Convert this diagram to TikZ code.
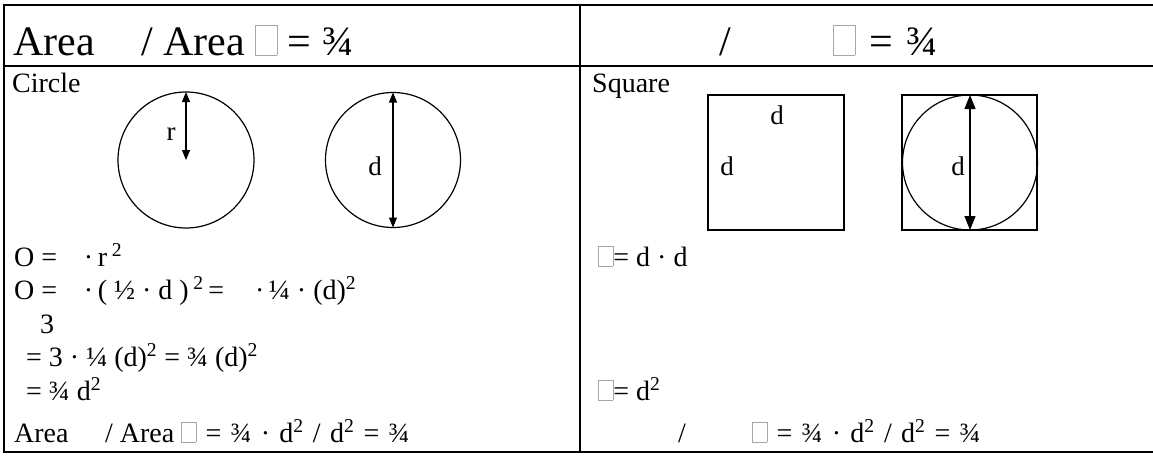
\documentclass[tikz,border=0pt]{standalone}
\usepackage{fontspec}
\setmainfont{Liberation Serif}
\usetikzlibrary{arrows.meta}
\newcommand\gbox{{\color{gray!70}\setlength\fboxrule{0.6pt}\setlength\fboxsep{0pt}\fbox{\rule{0pt}{0.7em}\hspace{0.5em}}}}
\newcommand\sq{\textsuperscript{2}}
\newcommand\gs{\hspace{0.33em}}
\begin{document}
\begin{tikzpicture}[x=1pt,y=-1pt,
  frame/.style={line width=2.2pt},
  figline/.style={line width=1.2pt},
  txt/.style={inner sep=0pt,anchor=base west,font=\fontsize{28}{32}\selectfont},
  head/.style={inner sep=0pt,anchor=base west,font=\fontsize{42}{46}\selectfont},
  lbl/.style={inner sep=0pt,font=\fontsize{27}{30}\selectfont},
  dimarr/.style={line width=1.2pt,{Triangle[length=10pt,width=8pt]}-{Triangle[length=10pt,width=8pt]}},
  bigarr/.style={line width=1.2pt,{Triangle[length=14pt,width=11pt]}-{Triangle[length=14pt,width=11pt]}}]
\useasboundingbox (0,0) rectangle (1153,455);
% table frame
\draw[frame] (1153,5) -- (4,5) -- (4,452) -- (1153,452);
\draw[frame] (4,66) -- (1153,66);
\draw[frame] (580,5) -- (580,452);
% headers
\node[head] (hl) at (13,55) {Area\hspace{1.1em}/ Area \gbox{} = ¾};
\node[head] (hrs) at (719,55) {/};
\node[head] (hr) at (833,55) {\gbox\gs=\gs¾};
% left column
\node[txt] (circ) at (12,92) {Circle};
\draw[figline] (186,160) circle (68);
\coordinate (c1top) at (186,92);
\coordinate (c1c) at (186,160);
\draw[dimarr] (c1top) -- (c1c);
\node[lbl] (rl) at (171,134) {r};
\draw[figline] (393,160) circle (67.5);
\coordinate (c2top) at (393,92.5);
\coordinate (c2bot) at (393,227.5);
\draw[dimarr] (c2top) -- (c2bot);
\node[lbl] (dl1) at (375,166) {d};
\node[txt] (l1) at (14,266) {O =\hspace{0.95em}·\,r\,\sq};
\node[txt] (l2) at (14,299) {O =\hspace{0.95em}·\,( ½ · d )\,\sq\,=\hspace{1.1em}·\,¼ · (d)\sq};
\node[txt] (l3) at (40,333) {3};
\node[txt] (l4) at (26,366) {= 3 · ¼ (d)\sq{} = ¾ (d)\sq};
\node[txt] (l5) at (26,400) {= ¾ d\sq};
\node[txt] (l6) at (14,442) {Area\hspace{1.3em}/ Area \gbox\gs=\gs¾\gs·\gs d\sq\gs/\gs d\sq\gs=\gs¾};
% right column
\node[txt] (sqt) at (592,92) {Square};
\draw[figline] (708,95) rectangle (844,230);
\node[lbl] (ds1) at (777,115) {d};
\node[lbl] (ds2) at (727,166) {d};
\draw[figline] (902,95) rectangle (1037,230);
\draw[figline] (970,162.5) circle (67.5);
\coordinate (s2top) at (970,95);
\coordinate (s2bot) at (970,230);
\draw[bigarr] (s2top) -- (s2bot);
\node[lbl] (ds3) at (958,166) {d};
\node[txt] (r1) at (598,266) {\gbox= d · d};
\node[txt] (r5) at (598,400) {\gbox= d\sq};
\node[txt] (r6s) at (678,442) {/};
\node[txt] (r6) at (752,442) {\gbox\gs=\gs¾\gs·\gs d\sq\gs/\gs d\sq\gs=\gs¾};
\end{tikzpicture}
\end{document}
